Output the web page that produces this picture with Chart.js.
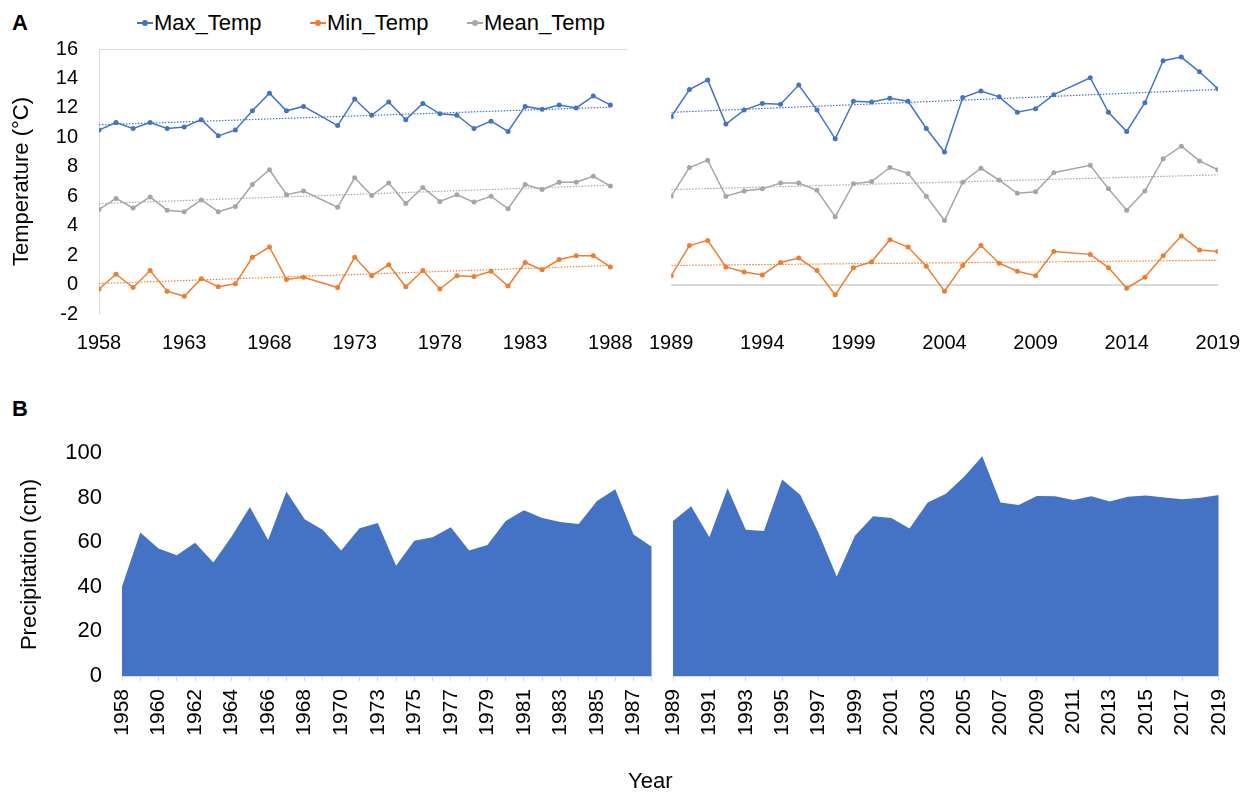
<!DOCTYPE html>
<html>
<head>
<meta charset="utf-8">
<script src="https://cdn.jsdelivr.net/npm/chart.js@4.4.1/dist/chart.umd.min.js"></script>
<style>
  body { margin: 0; background: #fff; font-family: 'Liberation Sans', Arial, sans-serif; color: #000; }
  #fig { position: relative; width: 1249px; height: 796px; overflow: hidden; }
  canvas { position: absolute; }
  .tag { position: absolute; font-weight: bold; font-size: 22px; line-height: 22px; }
  .leg { position: absolute; top: 10px; font-size: 22px; line-height: 26px; white-space: nowrap; }
  .mk { position: absolute; left: 0; top: 12px; width: 16px; height: 2px; }
  .mk::after { content: ''; position: absolute; left: 5px; top: -2px; width: 6px; height: 6px; border-radius: 50%; background: inherit; }
  .leg span.txt { position: absolute; left: 17px; top: 0; }
  #year { position: absolute; left: 628px; top: 768px; font-size: 22px; }
</style>
</head>
<body>
<div id="fig">
  <div class="tag" style="left:12px;top:12px">A</div>
  <div class="tag" style="left:12px;top:398px">B</div>
  <div class="leg" style="left:137px"><div class="mk" style="background:#4472C4"></div><span class="txt">Max_Temp</span></div>
  <div class="leg" style="left:310px"><div class="mk" style="background:#ED7D31"></div><span class="txt">Min_Temp</span></div>
  <div class="leg" style="left:467px"><div class="mk" style="background:#A5A5A5"></div><span class="txt">Mean_Temp</span></div>
  <canvas id="tempA" width="650" height="360" style="left:0;top:0"></canvas>
  <canvas id="tempB" width="625" height="360" style="left:632px;top:0"></canvas>
  <canvas id="rainA" width="685" height="396" style="left:0;top:400px"></canvas>
  <canvas id="rainB" width="592" height="396" style="left:660px;top:400px"></canvas>
  <div id="year">Year</div>
</div>
<script>
// 1971 is missing from the temperature record in the first period, 2011 in the second
const yearsA = [1958, 1959, 1960, 1961, 1962, 1963, 1964, 1965, 1966, 1967, 1968, 1969, 1970,
  1972, 1973, 1974, 1975, 1976, 1977, 1978, 1979, 1980, 1981, 1982, 1983, 1984, 1985, 1986, 1987, 1988];
const maxA = [10.5, 11.0, 10.6, 11.0, 10.6, 10.7, 11.2, 10.1, 10.5, 11.8, 13.0, 11.8, 12.1,
  10.8, 12.6, 11.5, 12.4, 11.2, 12.3, 11.6, 11.5, 10.6, 11.1, 10.4, 12.1, 11.9, 12.2, 12.0, 12.8, 12.2];
const meanA = [5.1, 5.85, 5.2, 5.95, 5.05, 4.95, 5.75, 4.95, 5.3, 6.8, 7.8, 6.1, 6.35,
  5.25, 7.25, 6.05, 6.9, 5.5, 6.6, 5.65, 6.1, 5.6, 6.0, 5.15, 6.8, 6.45, 6.95, 6.95, 7.35, 6.7];
const minA = [-0.3, 0.7, -0.2, 0.95, -0.45, -0.8, 0.4, -0.15, 0.05, 1.85, 2.55, 0.35, 0.5,
  -0.2, 1.85, 0.6, 1.35, -0.15, 0.95, -0.3, 0.6, 0.55, 0.9, -0.1, 1.5, 1.0, 1.7, 1.95, 1.95, 1.2];
const maxTrendA = [10.85, 12.05];
const meanTrendA = [5.5, 6.75];
const minTrendA = [0.07, 1.3];
const tickYearsA = [1958, 1963, 1968, 1973, 1978, 1983, 1988];

const yearsB = [1989, 1990, 1991, 1992, 1993, 1994, 1995, 1996, 1997, 1998, 1999, 2000, 2001,
  2002, 2003, 2004, 2005, 2006, 2007, 2008, 2009, 2010, 2012, 2013, 2014, 2015, 2016, 2017, 2018, 2019];
const maxB = [11.4, 13.25, 13.9, 10.9, 11.85, 12.3, 12.25, 13.55, 11.85, 9.9, 12.45, 12.4, 12.65,
  12.45, 10.6, 9.0, 12.7, 13.15, 12.75, 11.7, 11.95, 12.9, 14.05, 11.7, 10.4, 12.35, 15.2, 15.45, 14.45, 13.3];
const meanB = [6.0, 7.95, 8.45, 6.0, 6.35, 6.5, 6.9, 6.9, 6.4, 4.6, 6.85, 7.0, 7.95,
  7.55, 6.0, 4.35, 6.95, 7.9, 7.1, 6.2, 6.3, 7.6, 8.1, 6.5, 5.05, 6.35, 8.55, 9.4, 8.4, 7.8];
const minB = [0.6, 2.65, 3.0, 1.2, 0.85, 0.65, 1.5, 1.8, 0.95, -0.7, 1.15, 1.55, 3.05,
  2.55, 1.25, -0.45, 1.3, 2.65, 1.45, 0.9, 0.6, 2.25, 2.05, 1.15, -0.25, 0.5, 1.95, 3.3, 2.35, 2.25];
const maxTrendB = [11.7, 13.25];
const meanTrendB = [6.45, 7.45];
const minTrendB = [1.3, 1.65];
const tickYearsB = [1989, 1994, 1999, 2004, 2009, 2014, 2019];

const rainYearsA = ['1958', '1959', '1960', '1961', '1962', '1963', '1964', '1965', '1966', '1967', '1968', '1969', '1970',
  '1972', '1973', '1974', '1975', '1976', '1977', '1978', '1979', '1980', '1981', '1982', '1983', '1984', '1985', '1986', '1987', '1988'];
const rainA = [40.1, 64.4, 57.2, 54.1, 59.8, 50.9, 62.6, 75.8, 61.0, 82.7, 70.3, 65.5, 56.3,
  66.2, 68.6, 49.4, 60.7, 62.2, 66.7, 56.3, 58.7, 69.5, 74.3, 70.9, 69.1, 68.2, 78.5, 83.7, 63.4, 58.0];
const rainYearsB = ['1989', '1990', '1991', '1992', '1993', '1994', '1995', '1996', '1997', '1998', '1999', '2000', '2001',
  '2002', '2003', '2004', '2005', '2006', '2007', '2008', '2009', '2010', '2011', '2012', '2013', '2014', '2015', '2016',
  '2017', '2018', '2019'];
const rainB = [69.5, 76.1, 62.2, 84.2, 65.6, 65.0, 88.1, 81.2, 64.1, 44.6, 62.9, 71.6, 70.9,
  66.1, 77.8, 81.7, 89.4, 98.5, 77.8, 76.7, 80.7, 80.6, 78.9, 80.6, 78.2, 80.4, 80.9, 80.0, 79.3, 79.9, 81.2];

const COLORS = { max: '#4472C4', min: '#ED7D31', mean: '#A5A5A5', area: '#4472C4', axis: '#d9d9d9' };
const FONT = "'Liberation Sans', Arial, sans-serif";
Chart.defaults.font.family = FONT;
Chart.defaults.color = '#000';

function series(years, values, color) {
  return {
    data: years.map((y, i) => ({ x: y, y: values[i] })),
    borderColor: color, backgroundColor: color,
    borderWidth: 1.5, pointRadius: 2.5, pointBorderWidth: 0, tension: 0
  };
}

function trend(years, ends, color) {
  return {
    data: [{ x: years[0], y: ends[0] }, { x: years[years.length - 1], y: ends[1] }],
    borderColor: color, borderWidth: 1.2, borderDash: [1.5, 1.5], pointRadius: 0
  };
}

function tempChart(id, years, max, min, mean, tMax, tMin, tMean, tickYears, opts) {
  const ctx = document.getElementById(id).getContext('2d');
  return new Chart(ctx, {
    type: 'line',
    data: {
      datasets: [
        trend(years, tMax, COLORS.max), trend(years, tMean, COLORS.mean), trend(years, tMin, COLORS.min),
        series(years, max, COLORS.max), series(years, mean, COLORS.mean), series(years, min, COLORS.min)
      ]
    },
    options: {
      responsive: false,
      animation: false,
      layout: { padding: opts.padding },
      plugins: { legend: { display: false }, tooltip: { enabled: false } },
      scales: {
        x: {
          type: 'linear', min: years[0], max: opts.xMax,
          afterBuildTicks: s => { s.ticks = tickYears.map(v => ({ value: v })); },
          afterFit: s => { s.height = 46; },
          grid: { display: false, drawTicks: false },
          border: { display: false },
          ticks: { autoSkip: false, maxRotation: 0, padding: 17, font: { size: 20 }, callback: v => String(v) }
        },
        y: opts.y
      }
    }
  });
}

tempChart('tempA', yearsA, maxA, minA, meanA, maxTrendA, minTrendA, meanTrendA, tickYearsA, {
  xMax: 1989,
  padding: { top: 49, left: 0, right: 13, bottom: 0 },
  y: {
    min: -2, max: 16,
    afterFit: s => { s.width = 99; },
    ticks: { stepSize: 2, padding: 21, font: { size: 20 } },
    grid: { drawTicks: false, color: c => (c.tick && c.tick.value === 16 ? COLORS.axis : 'rgba(0,0,0,0)') },
    border: { display: true, color: COLORS.axis },
    title: { display: true, text: 'Temperature (°C)', font: { size: 22 }, padding: { top: 9, bottom: 0 } }
  }
});

tempChart('tempB', yearsB, maxB, minB, meanB, maxTrendB, minTrendB, meanTrendB, tickYearsB, {
  xMax: 2019,
  padding: { top: 49, left: 31, right: 32, bottom: 0 },
  y: {
    min: -2, max: 16,
    afterFit: s => { s.width = 0; },
    ticks: { display: false, stepSize: 2 },
    grid: { drawTicks: false, lineWidth: 2, color: c => (c.tick && c.tick.value === 0 ? COLORS.axis : 'rgba(0,0,0,0)') },
    border: { display: false }
  }
});

function rainChart(id, labels, values, opts) {
  const ctx = document.getElementById(id).getContext('2d');
  return new Chart(ctx, {
    type: 'line',
    data: {
      labels,
      datasets: [{ data: values, fill: 'origin', backgroundColor: COLORS.area, borderWidth: 0, pointRadius: 0, tension: 0 }]
    },
    options: {
      responsive: false,
      animation: false,
      layout: { padding: opts.padding },
      plugins: { legend: { display: false }, tooltip: { enabled: false } },
      scales: {
        x: {
          offset: false,
          afterFit: s => { s.height = 120; },
          grid: { drawOnChartArea: false, drawTicks: true, tickLength: 5, tickColor: opts.tickColor },
          border: { display: true, color: COLORS.axis },
          ticks: {
            autoSkip: false, minRotation: 90, maxRotation: 90, padding: 8, font: { size: 21 },
            callback: function (v, i) { return i % 2 === 0 ? this.getLabelForValue(v) : ''; }
          }
        },
        y: opts.y
      }
    }
  });
}

rainChart('rainA', rainYearsA, rainA, {
  padding: { top: 53, left: 0, right: 8, bottom: 0 },
  tickColor: COLORS.axis,
  y: {
    min: 0, max: 100,
    afterFit: s => { s.width = 122; },
    ticks: { stepSize: 20, padding: 20, font: { size: 22 } },
    grid: { display: false, drawTicks: false },
    border: { display: false },
    title: { display: true, text: 'Precipitation (cm)', font: { size: 22 }, padding: { top: 17, bottom: 0 } }
  }
});

rainChart('rainB', rainYearsB, rainB, {
  padding: { top: 53, left: 13, right: 31, bottom: 0 },
  tickColor: c => (c.index % 2 === 0 ? COLORS.axis : 'rgba(0,0,0,0)'),
  y: { display: false, min: 0, max: 100 }
});
</script>
</body>
</html>
